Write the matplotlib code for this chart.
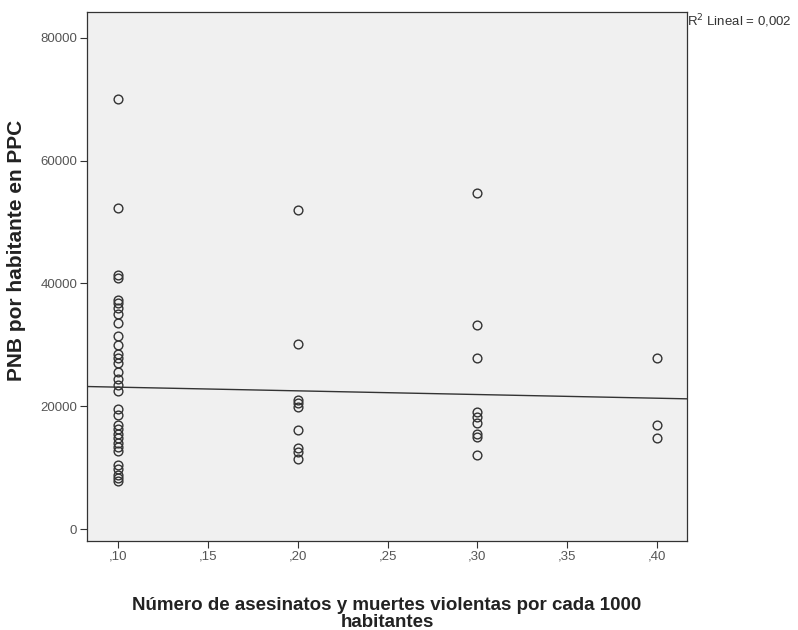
import matplotlib
matplotlib.use("Agg")
import matplotlib.pyplot as plt
import numpy as np

plt.rcParams['font.family'] = ['Liberation Sans', 'DejaVu Sans']

# Data
x_010 = [70000, 52200, 41300, 40800, 37300, 36800, 36000, 35000, 33500, 31500,
         30000, 28500, 27800, 27000, 25500, 24500, 23500, 22500, 19500, 18500,
         17000, 16300, 15500, 14800, 14000, 13300, 12700, 10500, 9800, 8800,
         8300, 7800]
x_020 = [51900, 30100, 21000, 20500, 19900, 16100, 13200, 12500, 11400]
x_030 = [54700, 33300, 27800, 19000, 18200, 17200, 15500, 15000, 12000]
x_040 = [27800, 16900, 14800]
groups = [0.10, 0.20, 0.30, 0.40]
values = [x_010, x_020, x_030, x_040]

fit_intercept = 23700
fit_slope = -6000
r2_text = "R$^2$ Lineal = 0,002"

x_ticks = [0.10, 0.15, 0.20, 0.25, 0.30, 0.35, 0.40]
x_ticklabels = [",10", ",15", ",20", ",25", ",30", ",35", ",40"]
y_ticks = [0, 20000, 40000, 60000, 80000]
y_ticklabels = ["0", "20000", "40000", "60000", "80000"]

fig = plt.figure(figsize=(7.98, 6.30), dpi=100)
ax = fig.add_axes([0.109, 0.1413, 0.752, 0.8397])
ax.set_facecolor('#f0f0f0')

xs, ys = [], []
for g, v in zip(groups, values):
    xs += [g] * len(v)
    ys += v
ax.plot(xs, ys, linestyle='none', marker='o', markersize=6.3,
        markerfacecolor='none', markeredgecolor='#333333', markeredgewidth=1.0)

xlim = (0.0827, 0.4167)
ax.set_xlim(*xlim)
ax.set_ylim(-1950, 84200)
lx = np.array(xlim)
ax.plot(lx, fit_intercept + fit_slope * lx, color='#333333', linewidth=1.0)

ax.set_xticks(x_ticks)
ax.set_xticklabels(x_ticklabels)
ax.set_yticks(y_ticks)
ax.set_yticklabels(y_ticklabels)
ax.tick_params(axis='both', direction='out', length=5, width=0.8,
               colors='#333333', labelcolor='#555555', labelsize=9.5)
ax.tick_params(axis='x', pad=2)
ax.tick_params(axis='y', pad=2)
for s in ax.spines.values():
    s.set_color('#333333')
    s.set_linewidth(0.9)

ax.set_xlabel("Número de asesinatos y muertes violentas por cada 1000\nhabitantes",
              fontsize=13.5, fontweight='bold', color='#222222', labelpad=25,
              linespacing=0.95)
ax.set_ylabel("PNB por habitante en PPC", fontsize=15, fontweight='bold',
              color='#222222')
ax.yaxis.set_label_coords(-0.102, 0.55)

fig.text(0.861, 0.966, r2_text, fontsize=9.5, color='#333333', ha='left', va='center')

fig.savefig("out.png", dpi=100, facecolor='white')
